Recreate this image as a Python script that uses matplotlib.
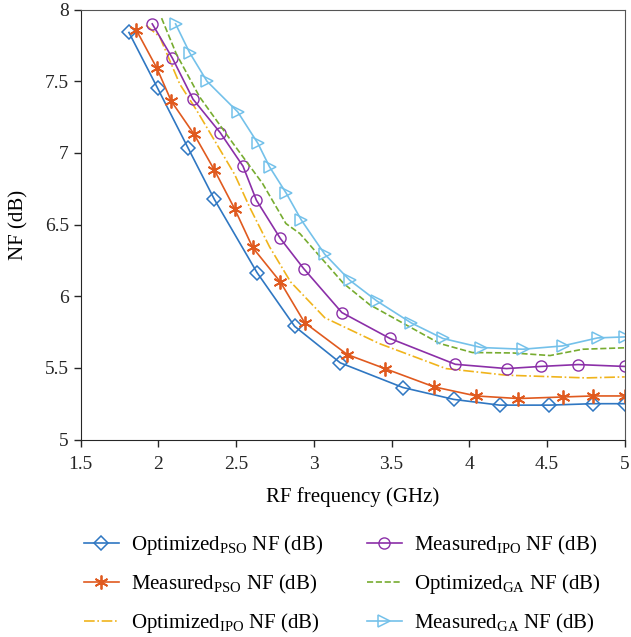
import matplotlib
matplotlib.use("Agg")
import matplotlib.pyplot as plt

plt.rcParams['font.family'] = ['Liberation Serif', 'DejaVu Serif']
plt.rcParams['mathtext.fontset'] = 'custom'
plt.rcParams['mathtext.rm'] = 'Liberation Serif'

# data
x_opt_pso = [1.81, 1.995, 2.19, 2.36, 2.634, 2.876, 3.17, 3.573, 3.90, 4.195, 4.516, 4.794, 5.0]
y_opt_pso = [7.84, 7.45, 7.035, 6.675, 6.165, 5.79, 5.535, 5.363, 5.28, 5.24, 5.24, 5.25, 5.25]

x_mea_pso = [1.858, 1.99, 2.083, 2.229, 2.36, 2.49, 2.606, 2.784, 2.94, 3.215, 3.457, 3.775, 4.045, 4.315, 4.606, 4.794, 5.0]
y_mea_pso = [7.856, 7.59, 7.36, 7.13, 6.88, 6.61, 6.34, 6.10, 5.816, 5.593, 5.495, 5.367, 5.304, 5.286, 5.297, 5.304, 5.304]

x_opt_ipo = [1.92, 2.008, 2.137, 2.244, 2.372, 2.49, 2.587, 2.715, 2.85, 3.07, 3.42, 3.85, 4.237, 4.75, 5.0]
y_opt_ipo = [7.89, 7.81, 7.48, 7.30, 7.066, 6.85, 6.62, 6.344, 6.10, 5.85, 5.67, 5.495, 5.449, 5.43, 5.437]

x_mea_ipo = [1.96, 2.09, 2.222, 2.398, 2.544, 2.63, 2.784, 2.934, 3.18, 3.49, 3.91, 4.24, 4.46, 4.70, 5.0]
y_mea_ipo = [7.90, 7.66, 7.375, 7.14, 6.907, 6.67, 6.403, 6.193, 5.886, 5.705, 5.525, 5.495, 5.51, 5.523, 5.51]

x_opt_ga = [2.02, 2.115, 2.265, 2.48, 2.67, 2.82, 2.91, 3.19, 3.36, 3.81, 4.02, 4.28, 4.52, 4.73, 5.0]
y_opt_ga = [7.94, 7.69, 7.39, 7.066, 6.786, 6.507, 6.437, 6.09, 5.94, 5.67, 5.607, 5.604, 5.586, 5.63, 5.64]

x_mea_ga = [2.11, 2.20, 2.312, 2.51, 2.64, 2.715, 2.823, 2.92, 3.07, 3.23, 3.405, 3.626, 3.83, 4.077, 4.345, 4.6, 4.826, 5.0]
y_mea_ga = [7.90, 7.70, 7.50, 7.286, 7.066, 6.902, 6.717, 6.53, 6.293, 6.112, 5.967, 5.814, 5.705, 5.642, 5.63, 5.653, 5.709, 5.716]

labels = [r'Optimized$_{\mathrm{PSO}}$ NF (dB)', r'Measured$_{\mathrm{PSO}}$ NF (dB)',
          r'Optimized$_{\mathrm{IPO}}$ NF (dB)', r'Measured$_{\mathrm{IPO}}$ NF (dB)',
          r'Optimized$_{\mathrm{GA}}$ NF (dB)', r'Measured$_{\mathrm{GA}}$ NF (dB)']

fig = plt.figure(figsize=(6.31, 6.37), dpi=100)
ax = fig.add_axes([0.128, 0.31, 0.862, 0.675])

ax.plot(x_opt_pso, y_opt_pso, '-', color='#2f77c2', marker='D', markersize=7,
        markerfacecolor='none', markeredgewidth=1.1, lw=1.2, label=labels[0])
ax.plot(x_mea_pso, y_mea_pso, '-', color='#e05a1f', marker=(6, 2, 0), markersize=10,
        markeredgewidth=1.3, lw=1.2, label=labels[1])
ax.plot(x_opt_ipo, y_opt_ipo, '-.', color='#f0b41c', lw=1.2, label=labels[2])
ax.plot(x_mea_ipo, y_mea_ipo, '-', color='#8b2fa8', marker='o', markersize=8,
        markerfacecolor='none', markeredgewidth=1.0, lw=1.2, label=labels[3])
ax.plot(x_opt_ga, y_opt_ga, '--', color='#77ac30', lw=1.2, label=labels[4])
ax.plot(x_mea_ga, y_mea_ga, '-', color='#74c1ea', marker='>', markersize=9,
        markerfacecolor='none', markeredgewidth=1.1, lw=1.2, label=labels[5])

ax.set_xlim(1.5, 5)
ax.set_ylim(5, 8)
ax.set_xticks([1.5, 2, 2.5, 3, 3.5, 4, 4.5, 5])
ax.set_xticklabels(['1.5', '2', '2.5', '3', '3.5', '4', '4.5', '5'])
ax.set_yticks([5, 5.5, 6, 6.5, 7, 7.5, 8])
ax.set_yticklabels(['5', '5.5', '6', '6.5', '7', '7.5', '8'])
ax.tick_params(labelsize=14, direction='out', length=5, width=1, colors='#262626')
ax.tick_params(axis='x', pad=7)
ax.spines['left'].set_color('#262626')
ax.spines['bottom'].set_color('#262626')
ax.spines['top'].set_color('#555555')
ax.spines['right'].set_color('#555555')
ax.set_xlabel('RF frequency (GHz)', fontsize=15, labelpad=10)
ax.set_ylabel('NF (dB)', fontsize=15)
ax.yaxis.set_label_coords(-0.097, 0.5)

fig.legend(loc='upper left', bbox_to_anchor=(0.133, 0.163), ncol=2, frameon=False,
           fontsize=15, columnspacing=2.1, labelspacing=0.75, handlelength=1.68,
           handletextpad=0.58, borderpad=0, borderaxespad=0)

fig.savefig('out.png', dpi=100)
